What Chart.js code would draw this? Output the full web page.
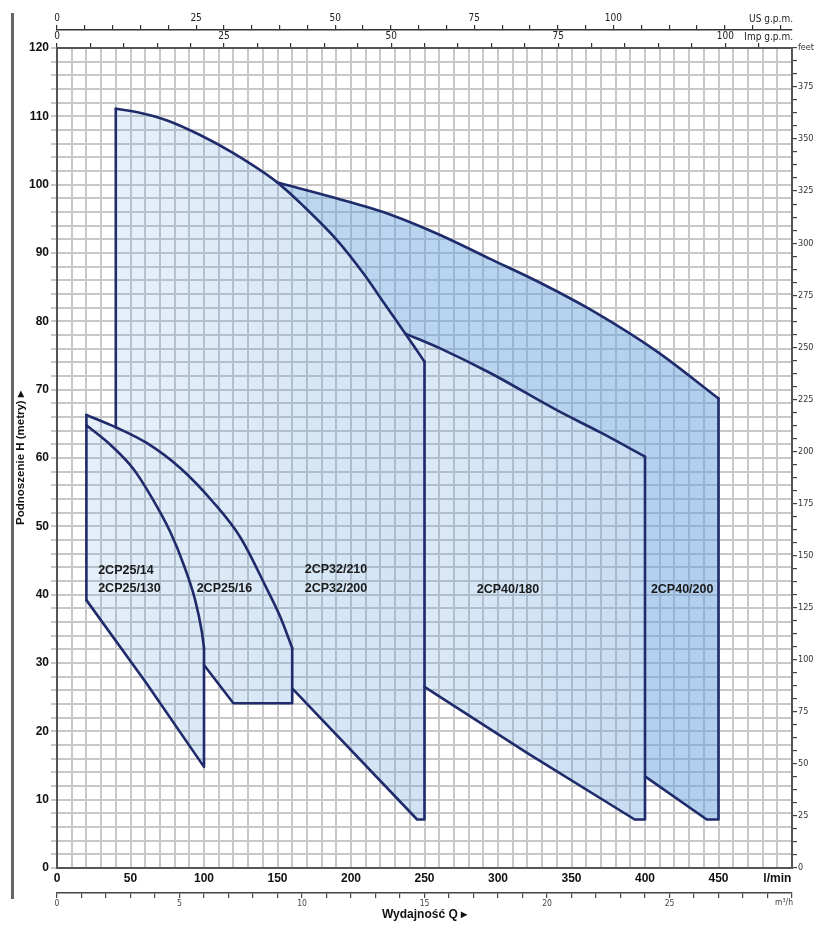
<!DOCTYPE html>
<html>
<head>
<meta charset="utf-8">
<title>2CP - krzywe pracy</title>
<script src="https://cdn.jsdelivr.net/npm/chart.js@4.4.1/dist/chart.umd.min.js"></script>
<style>
  html, body { margin: 0; background: #fff; }
  #wrap { position: relative; width: 814px; height: 925px; }
  .rule { position: absolute; left: 11px; top: 13px; width: 3px; height: 886px; background: #666; }
</style>
</head>
<body>
<div id="wrap">
  <canvas id="chart"></canvas>
  <div class="rule"></div>
</div>
<script>
// Pump families 2CP - head H [m] vs flow Q [l/min]

const Q_MAX = 500;
const H_MAX = 120;
const LPM_PER_M3H = 1000 / 60;
const LPM_PER_USGPM = 3.785411784;
const LPM_PER_IMPGPM = 4.54609;
const M_PER_FT = 0.3048;

// curve points [Q l/min, H m]
const top25_14 = [[20, 64.8], [37, 61.8], [52, 58.4], [64.5, 54.2], [77, 49.2], [86.5, 44.2], [94, 39.2], [98.5, 34.6], [100, 32.2]];
const bottom25_14 = [[20, 39.2], [60, 27.3], [100, 14.8]];

const top25_16 = [[20, 66.3], [40, 64.5], [61, 62.2], [84, 58.5], [106, 53.6], [125, 48.3], [141.5, 41.4], [152, 36.7], [160, 32.2]];
const bottom25_16 = [[100, 29.7], [120, 24.1], [160, 24.1]];

const top32 = [[40, 111.1], [57, 110.5], [75, 109.4], [97, 107.3], [120, 104.6], [150, 100.3], [168, 96.8], [190, 92.0], [208.5, 87.0], [224, 82.2], [237, 78.2], [250, 74.1]];
const bottom32 = [[160, 26.3], [245, 7.1], [250, 7.1]];

const top40_180 = [[237, 78.2], [261, 76.0], [295, 72.4], [340, 67.0], [370, 63.7], [400, 60.2]];
const bottom40_180 = [[250, 26.5], [320, 16.8], [393, 7.1], [400, 7.1]];

const top40_200 = [[150, 100.3], [190, 98.0], [227, 95.6], [261, 92.6], [295, 89.1], [330, 85.5], [363, 81.7], [408, 75.6], [450, 68.7]];
const bottom40_200 = [[400, 13.4], [442, 7.1], [450, 7.1]];

// region captions [text, Q, H]
const captions = [
  ['2CP25/14', 28, 43.5],
  ['2CP25/130', 28, 40.9],
  ['2CP25/16', 95, 40.9],
  ['2CP32/210', 168.5, 43.7],
  ['2CP32/200', 168.5, 40.9],
  ['2CP40/180', 285.5, 40.8],
  ['2CP40/200', 404, 40.8]
];

// labelled tick values
const lpmLabelled = [0, 50, 100, 150, 200, 250, 300, 350, 400, 450];
const m3hLabelled = [0, 5, 10, 15, 20, 25];
const usLabelled = [0, 25, 50, 75, 100];
const impLabelled = [0, 25, 50, 75, 100];
const metreLabelled = [0, 10, 20, 30, 40, 50, 60, 70, 80, 90, 100, 110, 120];
const feetLabelled = [0, 25, 50, 75, 100, 125, 150, 175, 200, 225, 250, 275, 300, 325, 350, 375];

const SANS = "'Liberation Sans', Arial, sans-serif";
const NARROW = "'Liberation Sans Narrow', 'DejaVu Sans Condensed', 'Liberation Sans', sans-serif";
const LINE = '#1f2b6b';
const GRID = '#c8c8c8';
const FRAME = '#555';

const first = list => list[0];
const last = list => list[list.length - 1];
const rev = list => list.slice().reverse();
const between = (list, q0, q1) => list.filter(([q]) => q >= q0 && q <= q1);
const toXY = list => list.map(([x, y]) => ({x, y}));
const match = (list, v) => list.find(t => Math.abs(t - v) < 1e-6);

function shade(a0, a1, q0, q1) {
  return (ctx) => {
    const chart = ctx.chart;
    const xs = chart.scales.x;
    if (!chart.chartArea || !xs) return `rgba(100,160,220,${a1})`;
    const g = chart.ctx.createLinearGradient(xs.getPixelForValue(q0), 0, xs.getPixelForValue(q1), 0);
    g.addColorStop(0, `rgba(100,160,220,${a0})`);
    g.addColorStop(1, `rgba(100,160,220,${a1})`);
    return g;
  };
}

// visible part of every family, non overlapping
const regions = [
  { name: '2CP25/14', pts: [...top25_14, ...rev(bottom25_14)], bg: shade(0.17, 0.24, 20, 100) },
  { name: '2CP25/16', pts: [...top25_16, ...rev(bottom25_16), ...rev(top25_14)], bg: shade(0.17, 0.26, 20, 160) },
  { name: '2CP32', pts: [...top32, ...rev(bottom32), ...rev(between(top25_16, 40, 160))], bg: shade(0.16, 0.30, 40, 250) },
  { name: '2CP40/180', pts: [...top40_180, ...rev(bottom40_180), ...rev(between(top32, 237, 250))], bg: shade(0.22, 0.36, 240, 400) },
  { name: '2CP40/200', pts: [...top40_200, ...rev(bottom40_200), ...rev(top40_180), ...rev(between(top32, 150, 237))], bg: shade(0.42, 0.50, 150, 450) }
];

// smooth upper curves
const curves = [top25_14, top25_16, top32, top40_180, top40_200];

// straight edges: left sides, lower lines and right sides
const edges = [
  [first(bottom25_14), first(top25_16)],
  [...bottom25_14, last(top25_14)],
  [...bottom25_16, last(top25_16)],
  [first(top32), [first(top32)[0], top25_16[1][1]]],
  [...bottom32, last(top32)],
  [...bottom40_180, last(top40_180)],
  [...bottom40_200, last(top40_200)]
];

const stroke = {
  showLine: true,
  borderColor: LINE,
  borderWidth: 2.6,
  borderCapStyle: 'round',
  borderJoinStyle: 'round',
  pointRadius: 0,
  fill: false
};

const captionPlugin = {
  id: 'captions',
  afterDatasetsDraw(chart) {
    const {ctx, scales: {x, y}} = chart;
    ctx.save();
    ctx.font = `bold 12.5px ${SANS}`;
    ctx.fillStyle = '#1a1a1a';
    ctx.textAlign = 'left';
    ctx.textBaseline = 'middle';
    captions.forEach(([text, q, h]) => {
      ctx.fillText(text, x.getPixelForValue(q), y.getPixelForValue(h));
    });
    ctx.restore();
  }
};

// unit names at the right end of the secondary flow axes
const unitPlugin = {
  id: 'units',
  afterDraw(chart) {
    const {ctx, chartArea, scales: {xus, ximp, xm}} = chart;
    const right = chartArea.right + 1;
    ctx.save();
    ctx.textAlign = 'right';
    ctx.fillStyle = '#222';
    ctx.font = `10px ${NARROW}`;
    ctx.textBaseline = 'bottom';
    ctx.fillText('US g.p.m.', right, xus.bottom - 6);
    ctx.fillText('Imp g.p.m.', right, ximp.bottom - 6);
    ctx.fillStyle = '#444';
    ctx.font = `8.5px ${NARROW}`;
    ctx.textBaseline = 'top';
    ctx.fillText('m³/h', right, xm.top + 6);
    ctx.restore();
  }
};

const tickLabels = (labelled, unitAt, unit) => (v) => {
  const m = match(labelled, v);
  if (m !== undefined) return String(m);
  if (unitAt !== null && Math.abs(v - unitAt) < 1e-6) return unit;
  return '';
};

const evenTicks = (step, withMax) => (axis) => {
  const ticks = [];
  for (let i = 0; i * step <= axis.max + 1e-9; i++) ticks.push({ value: i * step });
  if (withMax) ticks.push({ value: axis.max });
  axis.ticks = ticks;
};

new Chart(document.getElementById('chart'), {
  type: 'scatter',
  data: {
    datasets: [
      ...curves.map(c => ({ ...stroke, data: toXY(c), cubicInterpolationMode: 'monotone' })),
      ...edges.map(e => ({ ...stroke, data: toXY(e), tension: 0 })),
      ...regions.map(r => ({
        label: r.name,
        data: toXY(r.pts),
        showLine: true,
        fill: 'shape',
        backgroundColor: r.bg,
        borderColor: 'transparent',
        pointRadius: 0,
        tension: 0
      }))
    ]
  },
  options: {
    responsive: true,
    maintainAspectRatio: false,
    animation: false,
    events: [],
    layout: { padding: 0 },
    plugins: {
      legend: { display: false },
      tooltip: { enabled: false }
    },
    scales: {
      x: {
        type: 'linear', position: 'bottom', weight: 0,
        min: 0, max: Q_MAX,
        afterFit: s => { s.height = 25; },
        grid: { color: GRID, lineWidth: 2, drawTicks: false },
        border: { color: FRAME, width: 2 },
        ticks: {
          stepSize: 10, autoSkip: false, maxRotation: 0, padding: 3,
          color: '#111', font: { family: SANS, size: 12, weight: 'bold' },
          callback: tickLabels(lpmLabelled, 490, 'l/min')
        }
      },
      xm: {
        type: 'linear', position: 'bottom', weight: 1,
        min: 0, max: Q_MAX / LPM_PER_M3H,
        afterFit: s => { s.height = 32; },
        afterBuildTicks: evenTicks(1, false),
        grid: { drawOnChartArea: false, color: '#444', lineWidth: 1.2, tickLength: 5 },
        border: { color: '#444', width: 1.5 },
        ticks: {
          autoSkip: false, maxRotation: 0, padding: 1,
          color: '#444', font: { family: NARROW, size: 8.5 },
          callback: tickLabels(m3hLabelled, null, '')
        },
        title: {
          display: true, text: 'Wydajność Q ▸', color: '#111',
          font: { family: SANS, size: 12, weight: 'bold' },
          padding: { top: 0, bottom: 3 }
        }
      },
      ximp: {
        type: 'linear', position: 'top', weight: 0,
        min: 0, max: Q_MAX / LPM_PER_IMPGPM,
        afterFit: s => { s.height = 18; },
        afterBuildTicks: evenTicks(5, false),
        grid: { drawOnChartArea: false, color: '#333', lineWidth: 1.2, tickLength: 5 },
        border: { color: FRAME, width: 2 },
        ticks: {
          autoSkip: false, maxRotation: 0, padding: 1,
          color: '#222', font: { family: NARROW, size: 10 },
          callback: tickLabels(impLabelled, null, '')
        }
      },
      xus: {
        type: 'linear', position: 'top', weight: 1,
        min: 0, max: Q_MAX / LPM_PER_USGPM,
        afterFit: s => { s.height = 30; },
        afterBuildTicks: evenTicks(5, false),
        grid: { drawOnChartArea: false, color: '#333', lineWidth: 1.2, tickLength: 5 },
        border: { color: '#333', width: 1.6 },
        ticks: {
          autoSkip: false, maxRotation: 0, padding: 1,
          color: '#222', font: { family: NARROW, size: 10 },
          callback: tickLabels(usLabelled, null, '')
        }
      },
      y: {
        type: 'linear', position: 'left',
        min: 0, max: H_MAX,
        afterFit: s => { s.width = 57; },
        grid: { color: GRID, lineWidth: 2, tickLength: 6 },
        border: { color: FRAME, width: 2 },
        ticks: {
          stepSize: 2, autoSkip: false, padding: 2,
          color: '#111', font: { family: SANS, size: 12, weight: 'bold' },
          callback: tickLabels(metreLabelled, null, '')
        },
        title: {
          display: true, text: 'Podnoszenie H (metry) ▸', color: '#111',
          font: { family: SANS, size: 11.5, weight: 'bold' },
          padding: { top: 14, bottom: 0 }
        }
      },
      yft: {
        type: 'linear', position: 'right',
        min: 0, max: H_MAX / M_PER_FT,
        afterFit: s => { s.width = 22; },
        afterBuildTicks: evenTicks(6.25, true),
        grid: { drawOnChartArea: false, color: '#444', lineWidth: 1.2, tickLength: 5 },
        border: { color: FRAME, width: 2 },
        ticks: {
          autoSkip: false, padding: 1,
          color: '#333', font: { family: NARROW, size: 9 },
          callback: v => v > 390 ? 'feet' : tickLabels(feetLabelled, null, '')(v)
        }
      }
    }
  },
  plugins: [captionPlugin, unitPlugin]
});
</script>
</body>
</html>
